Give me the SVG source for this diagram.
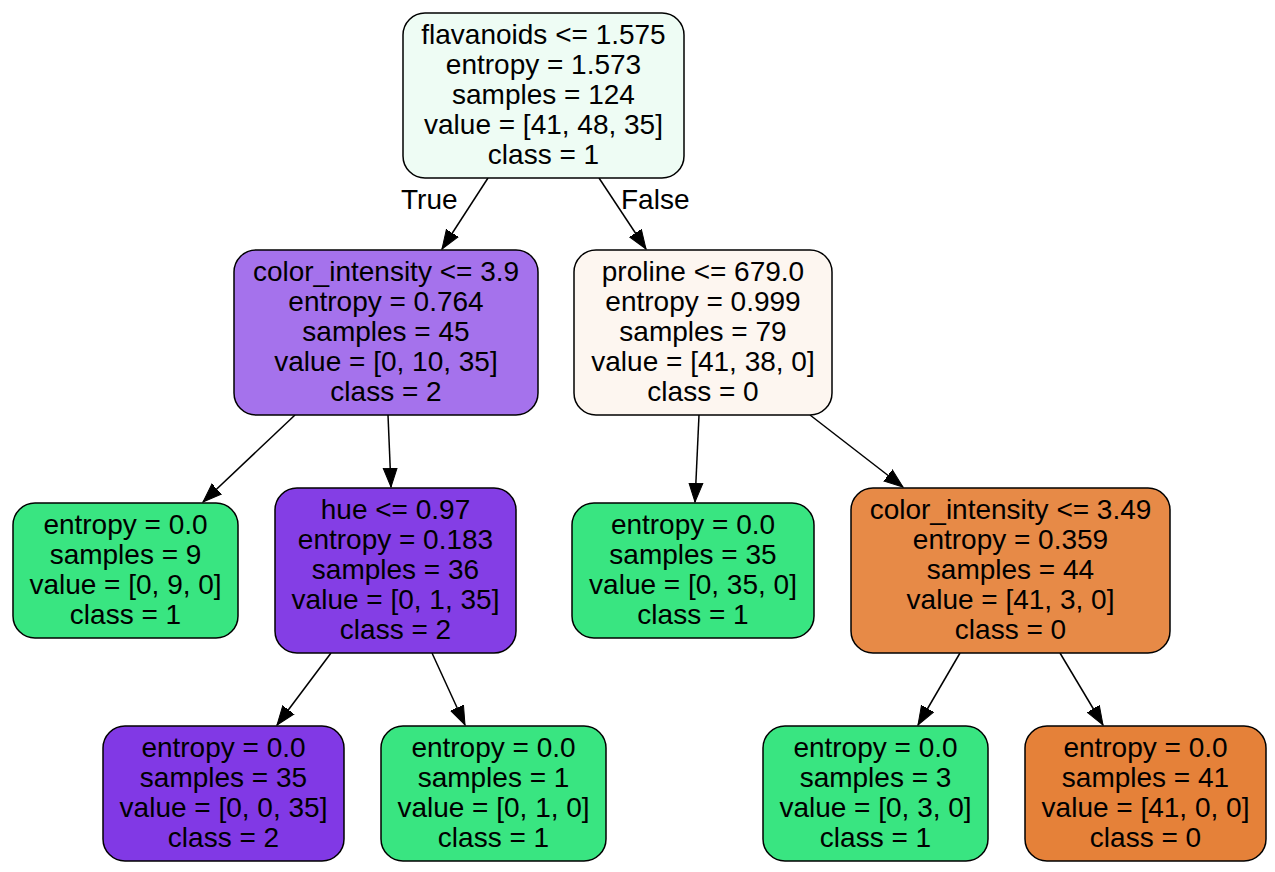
<svg xmlns="http://www.w3.org/2000/svg" width="1275" height="872" viewBox="0 0 1275 872">
<defs>
<style>
.n{stroke:#000;stroke-width:1.5}
text{font-family:"Liberation Sans",Arial,sans-serif;font-size:28px;fill:#000;text-anchor:middle}
.e{stroke:#000;stroke-width:1.5;fill:none;marker-end:url(#a)}
.lbl{text-anchor:start}
</style>
<marker id="a" markerUnits="userSpaceOnUse" markerWidth="20" markerHeight="16" viewBox="0 0 20 16" refX="19" refY="8" orient="auto">
<path d="M0,1 L19,8 L0,15 Z" fill="#000" stroke="#000" stroke-width="1"/>
</marker>
</defs>
<rect width="1275" height="872" fill="#fff"/>
<g id="edges">
<line class="e" x1="488" y1="178" x2="442" y2="249"/>
<line class="e" x1="599" y1="178" x2="646" y2="249"/>
<line class="e" x1="295" y1="415" x2="203" y2="502"/>
<line class="e" x1="388" y1="415" x2="391" y2="487"/>
<line class="e" x1="699" y1="415" x2="695" y2="502"/>
<line class="e" x1="810" y1="415" x2="903" y2="487"/>
<line class="e" x1="331" y1="653" x2="277" y2="725"/>
<line class="e" x1="432" y1="653" x2="465" y2="725"/>
<line class="e" x1="960" y1="653" x2="918" y2="725"/>
<line class="e" x1="1060" y1="653" x2="1103" y2="725"/>
<text class="lbl" x="401" y="209">True</text>
<text class="lbl" x="621" y="209">False</text>
</g>
<g id="n0">
<rect class="n" x="403" y="13" width="281" height="165" rx="22" fill="#eefcf4"/>
<text x="543.5" y="44">flavanoids &lt;= 1.575</text>
<text x="543.5" y="74">entropy = 1.573</text>
<text x="543.5" y="104">samples = 124</text>
<text x="543.5" y="134">value = [41, 48, 35]</text>
<text x="543.5" y="164">class = 1</text>
</g>
<g id="n1">
<rect class="n" x="234" y="250" width="304" height="165" rx="22" fill="#a572ec"/>
<text x="386" y="281">color_intensity &lt;= 3.9</text>
<text x="386" y="311">entropy = 0.764</text>
<text x="386" y="341">samples = 45</text>
<text x="386" y="371">value = [0, 10, 35]</text>
<text x="386" y="401">class = 2</text>
</g>
<g id="n2">
<rect class="n" x="13" y="503" width="225" height="135" rx="22" fill="#39e581"/>
<text x="125.5" y="534">entropy = 0.0</text>
<text x="125.5" y="564">samples = 9</text>
<text x="125.5" y="594">value = [0, 9, 0]</text>
<text x="125.5" y="624">class = 1</text>
</g>
<g id="n3">
<rect class="n" x="275" y="488" width="241" height="165" rx="22" fill="#843ee5"/>
<text x="395.5" y="519">hue &lt;= 0.97</text>
<text x="395.5" y="549">entropy = 0.183</text>
<text x="395.5" y="579">samples = 36</text>
<text x="395.5" y="609">value = [0, 1, 35]</text>
<text x="395.5" y="639">class = 2</text>
</g>
<g id="n4">
<rect class="n" x="103" y="726" width="241" height="135" rx="22" fill="#8139e5"/>
<text x="223.5" y="757">entropy = 0.0</text>
<text x="223.5" y="787">samples = 35</text>
<text x="223.5" y="817">value = [0, 0, 35]</text>
<text x="223.5" y="847">class = 2</text>
</g>
<g id="n5">
<rect class="n" x="381" y="726" width="225" height="135" rx="22" fill="#39e581"/>
<text x="493.5" y="757">entropy = 0.0</text>
<text x="493.5" y="787">samples = 1</text>
<text x="493.5" y="817">value = [0, 1, 0]</text>
<text x="493.5" y="847">class = 1</text>
</g>
<g id="n6">
<rect class="n" x="574" y="250" width="258" height="165" rx="22" fill="#fdf6f0"/>
<text x="703" y="281">proline &lt;= 679.0</text>
<text x="703" y="311">entropy = 0.999</text>
<text x="703" y="341">samples = 79</text>
<text x="703" y="371">value = [41, 38, 0]</text>
<text x="703" y="401">class = 0</text>
</g>
<g id="n7">
<rect class="n" x="572" y="503" width="242" height="135" rx="22" fill="#39e581"/>
<text x="693" y="534">entropy = 0.0</text>
<text x="693" y="564">samples = 35</text>
<text x="693" y="594">value = [0, 35, 0]</text>
<text x="693" y="624">class = 1</text>
</g>
<g id="n8">
<rect class="n" x="851" y="488" width="319" height="165" rx="22" fill="#e78a47"/>
<text x="1010.5" y="519">color_intensity &lt;= 3.49</text>
<text x="1010.5" y="549">entropy = 0.359</text>
<text x="1010.5" y="579">samples = 44</text>
<text x="1010.5" y="609">value = [41, 3, 0]</text>
<text x="1010.5" y="639">class = 0</text>
</g>
<g id="n9">
<rect class="n" x="763" y="726" width="225" height="135" rx="22" fill="#39e581"/>
<text x="875.5" y="757">entropy = 0.0</text>
<text x="875.5" y="787">samples = 3</text>
<text x="875.5" y="817">value = [0, 3, 0]</text>
<text x="875.5" y="847">class = 1</text>
</g>
<g id="n10">
<rect class="n" x="1025" y="726" width="241" height="135" rx="22" fill="#e58139"/>
<text x="1145.5" y="757">entropy = 0.0</text>
<text x="1145.5" y="787">samples = 41</text>
<text x="1145.5" y="817">value = [41, 0, 0]</text>
<text x="1145.5" y="847">class = 0</text>
</g>
</svg>
